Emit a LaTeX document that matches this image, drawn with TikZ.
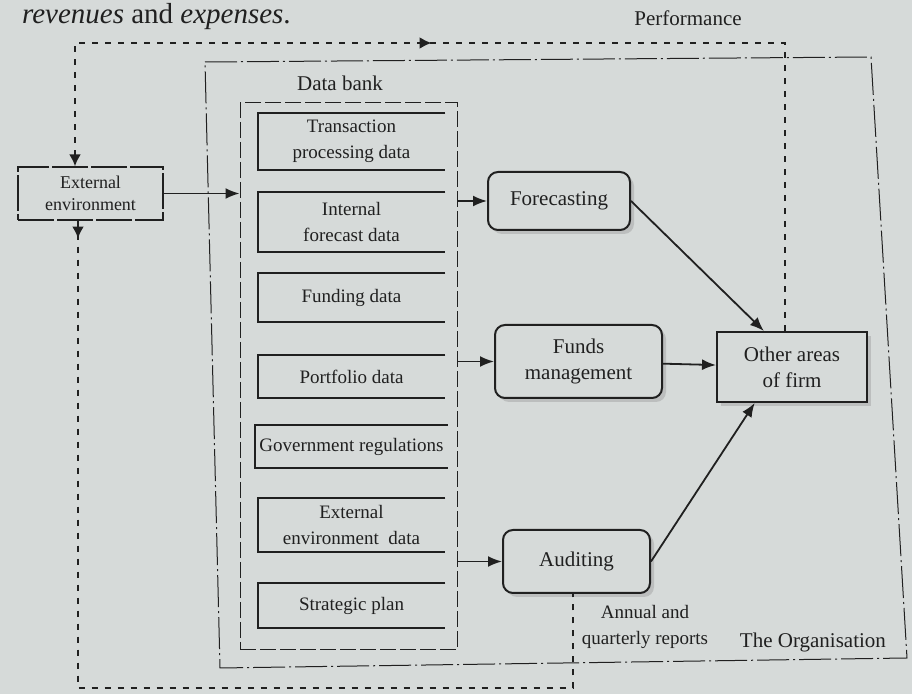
\documentclass[tikz,border=0pt]{standalone}
\usepackage{fontspec}
\setmainfont{Liberation Serif}
\usetikzlibrary{arrows.meta,shadows,decorations.markings}
\definecolor{paper}{RGB}{214,218,217}
\definecolor{ink}{RGB}{32,32,32}
\tikzset{
  databox/.style={minimum width=93.5pt, inner sep=2pt, align=center, font=\fontsize{9.5}{13}\selectfont},
  procbox/.style={draw=ink, fill=paper, line width=1pt, rounded corners=5pt, align=center,
    font=\fontsize{10.5}{13}\selectfont, drop shadow={shadow xshift=2pt, shadow yshift=-2pt, opacity=0.3}},
  areabox/.style={procbox, sharp corners},
  extbox/.style={draw=ink, line width=0.6pt, dash pattern=on 18pt off 1.5pt, inner sep=2pt,
    align=center, font=\fontsize{9}{11}\selectfont},
  perf/.style={line width=1.4pt, dash pattern=on 3pt off 3.5pt},
  org/.style={line width=0.5pt, dash pattern=on 16pt off 2pt on 1pt off 2pt},
  bank/.style={draw=ink, line width=0.5pt, dash pattern=on 8pt off 2pt,
    minimum width=108.5pt, minimum height=273.5pt},
  flow/.style={-{Latex[length=7pt,width=5.5pt]}, line width=0.9pt},
}
\begin{document}
\begin{tikzpicture}[x=0.5pt, y=-0.5pt, color=ink, font=\fontsize{10.5}{13}\selectfont]
\path[use as bounding box, fill=paper] (0,0) rectangle (912,694);
\node[anchor=base west, font=\fontsize{14.5}{17}\selectfont] (pagetext) at (15,24) {\textit{revenues} and \textit{expenses}.};
\node (perflabel) at (688,18) {Performance};

% the organisation and its data bank
\draw[org] (205,62) -- (871,57) -- (907,658) -- (220,668) -- cycle;
\node[anchor=base east] (orglabel) at (893,648) {The Organisation};
\node[bank] (db) at (348.5,376.5) {};
\node (dblabel) at (340,83) {Data bank};

\foreach \nm/\y/\h/\txt in {trans/141.5/28.5/{Transaction\\processing data},
    ifd/222/30/{Internal\\forecast data}, fund/297.5/24.5/{Funding data},
    port/376.5/21.5/{Portfolio data}, gov/446.5/21.5/{Government regulations},
    eed/525/27/{External\\environment~~data}, sp/605.5/22.5/{Strategic plan}}
{
  \node[databox, minimum height=\h*1pt] (\nm) at (351.5,\y) {\txt};
  \draw[line width=1pt] (\nm.north east) -- (\nm.north west) -- (\nm.south west) -- (\nm.south east);
}

\node[extbox, minimum width=72.5pt, minimum height=26.5pt] (ext) at (90.5,193.5) {External\\environment};
\node[procbox, minimum width=71pt, minimum height=29pt] (fc) at (559,201) {Forecasting};
\node[procbox, minimum width=83.5pt, minimum height=36.5pt] (fm) at (578.5,361.5) {Funds\\management};
\node[procbox, minimum width=73.5pt, minimum height=31.5pt] (aud) at (576.5,561.5) {Auditing};
\node[areabox, minimum width=75pt, minimum height=35pt] (oth) at (792,367) {Other areas\\of firm};
\node[align=center, font=\fontsize{9.5}{13}\selectfont] (rep) at (645,627) {Annual and\\quarterly reports};

\draw[flow] (ext) -- (db.west |- ext);
\draw[flow] (db.east |- fc) -- (fc);
\draw[flow] (db.east |- fm) -- (fm);
\draw[flow] (db.east |- aud) -- (aud);
\draw[flow] (fm) -- (oth);
\draw[flow] (fc.east) -- (oth.128);
\draw[flow] (aud.east) -- (oth.224);

% performance loop
\coordinate (pl) at (75,43);
\coordinate (pr) at (785,43);
\coordinate (bl) at (78,688);
\coordinate (br) at (573,688);
\draw[perf, {Latex[length=6pt,width=6pt]}-, postaction={decorate, decoration={markings,
    mark=at position 240pt with {\arrow{Latex[length=6pt,width=6pt]}}}}]
  (ext.north -| pl) -- (pl) -- (pr) -- (pr |- oth.north);
\draw[perf, postaction={decorate, decoration={markings,
    mark=at position 9pt with {\arrow{Latex[length=6pt,width=6pt]}}}}]
  (ext.south -| bl) -- (bl) -- (br) -- (br |- aud.south);
\end{tikzpicture}
\end{document}
